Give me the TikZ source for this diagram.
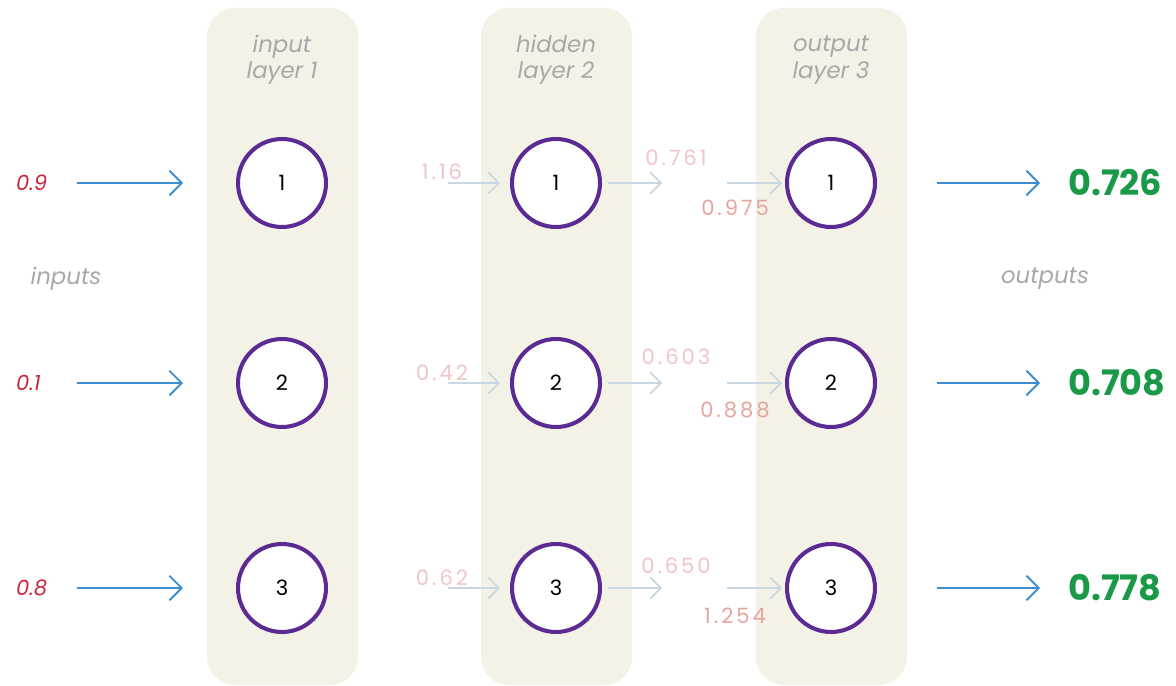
\documentclass[tikz,border=0pt]{standalone}
\usepackage{fontspec}
\setmainfont{Poppins}
\usepackage{tikz}
\usetikzlibrary{arrows.meta,positioning}
\usepackage{xcolor}
\definecolor{panel}{HTML}{F4F2E6}
\definecolor{ring}{HTML}{5B2A92}
\definecolor{wire}{HTML}{3C8ED0}
\definecolor{palewire}{HTML}{C8D7E2}
\definecolor{invalue}{HTML}{C8283C}
\definecolor{paleval}{HTML}{F0C4C8}
\definecolor{sumval}{HTML}{E6A49E}
\definecolor{outval}{HTML}{1A9A48}
\definecolor{caption}{HTML}{A8A8A8}
\newfontfamily\widenum[LetterSpace=14]{Poppins}

\begin{document}
\begin{tikzpicture}[
  x=0.02cm, y=-0.02cm,
  every node/.style={font=\small},
  neuron/.style={circle, draw=ring, line width=2.3pt, fill=white,
    minimum size=1.76cm, inner sep=0pt, font=\fontsize{12}{14}\selectfont},
  layertitle/.style={align=center, text=caption, font=\itshape\fontsize{13}{15}\selectfont},
  inval/.style={text=invalue, font=\itshape\fontsize{12}{14}\selectfont},
  hidval/.style={text=paleval, font=\widenum\fontsize{12}{14}\selectfont},
  sumnum/.style={text=sumval, font=\widenum\fontsize{12}{14}\selectfont},
  outnum/.style={text=outval, font=\bfseries\fontsize{20}{24}\selectfont},
  side/.style={text=caption, font=\itshape\fontsize{13}{15}\selectfont},
  feed/.style={-{Straight Barb[length=7pt,width=14pt]}, draw=wire, line width=1.1pt},
  softfeed/.style={-{Straight Barb[length=6pt,width=12pt]}, draw=palewire, line width=1pt}
]
  \useasboundingbox (0,0) rectangle (1176,686);

  % layer panels and titles
  \foreach \x/\title in {282/{input\\layer 1}, 556/{hidden\\layer 2}, 831/{output\\layer 3}} {
    \fill[panel, rounded corners=16pt] (\x-75,8) rectangle (\x+76,685);
    \node[layertitle] at (\x,60) {\title};
  }

  % neurons
  \foreach \col/\x in {a/282, b/556, c/831} {
    \foreach \i/\y in {1/183, 2/383, 3/588} {
      \node[neuron] (\col\i) at (\x,\y) {\i};
    }
  }

  \node[side] (inputs) at (66,279) {inputs};
  \node[side] (outputs) at (1045,279) {outputs};

  % inputs into layer 1
  \foreach \i/\v in {1/0.9, 2/0.1, 3/0.8} {
    \node[inval, anchor=west] (in\i) at (10,0 |- a\i) {\v};
    \coordinate (is\i) at (77,0 |- a\i);
    \draw[feed, shorten >=1.06cm] (is\i) -- (a\i.west);
  }

  % layer 1 -> layer 2 (moderated sums)
  \foreach \i/\v/\y in {1/1.16/172, 2/0.42/373, 3/0.62/578} {
    \node[hidval] (hin\i) at (442,\y) {\v};
    \coordinate (hs\i) at (448,0 |- b\i);
    \draw[softfeed, shorten >=0.2cm] (hs\i) -- (b\i.west);
  }

  % layer 2 outputs
  \foreach \i/\v/\y in {1/0.761/158, 2/0.603/357, 3/0.650/566} {
    \node[hidval] (hout\i) at (676,\y) {\v};
    \coordinate (he\i) at (662,0 |- b\i);
    \draw[softfeed, shorten <=0.12cm] (b\i.east) -- (he\i);
  }

  % combined inputs into layer 3
  \foreach \i/\v/\y in {1/0.975/208, 2/0.888/410, 3/1.254/616} {
    \node[sumnum] (sum\i) at (735,\y) {\v};
    \coordinate (cs\i) at (727,0 |- c\i);
    \draw[softfeed, shorten >=0.06cm] (cs\i) -- (c\i.west);
  }

  % final outputs
  \foreach \i/\v in {1/0.726, 2/0.708, 3/0.778} {
    \node[outnum, anchor=west] (out\i) at (1062,0 |- c\i) {\v};
    \coordinate (os\i) at (937,0 |- c\i);
    \draw[feed, shorten >=0.44cm] (os\i) -- (out\i.west);
  }
\end{tikzpicture}
\end{document}
